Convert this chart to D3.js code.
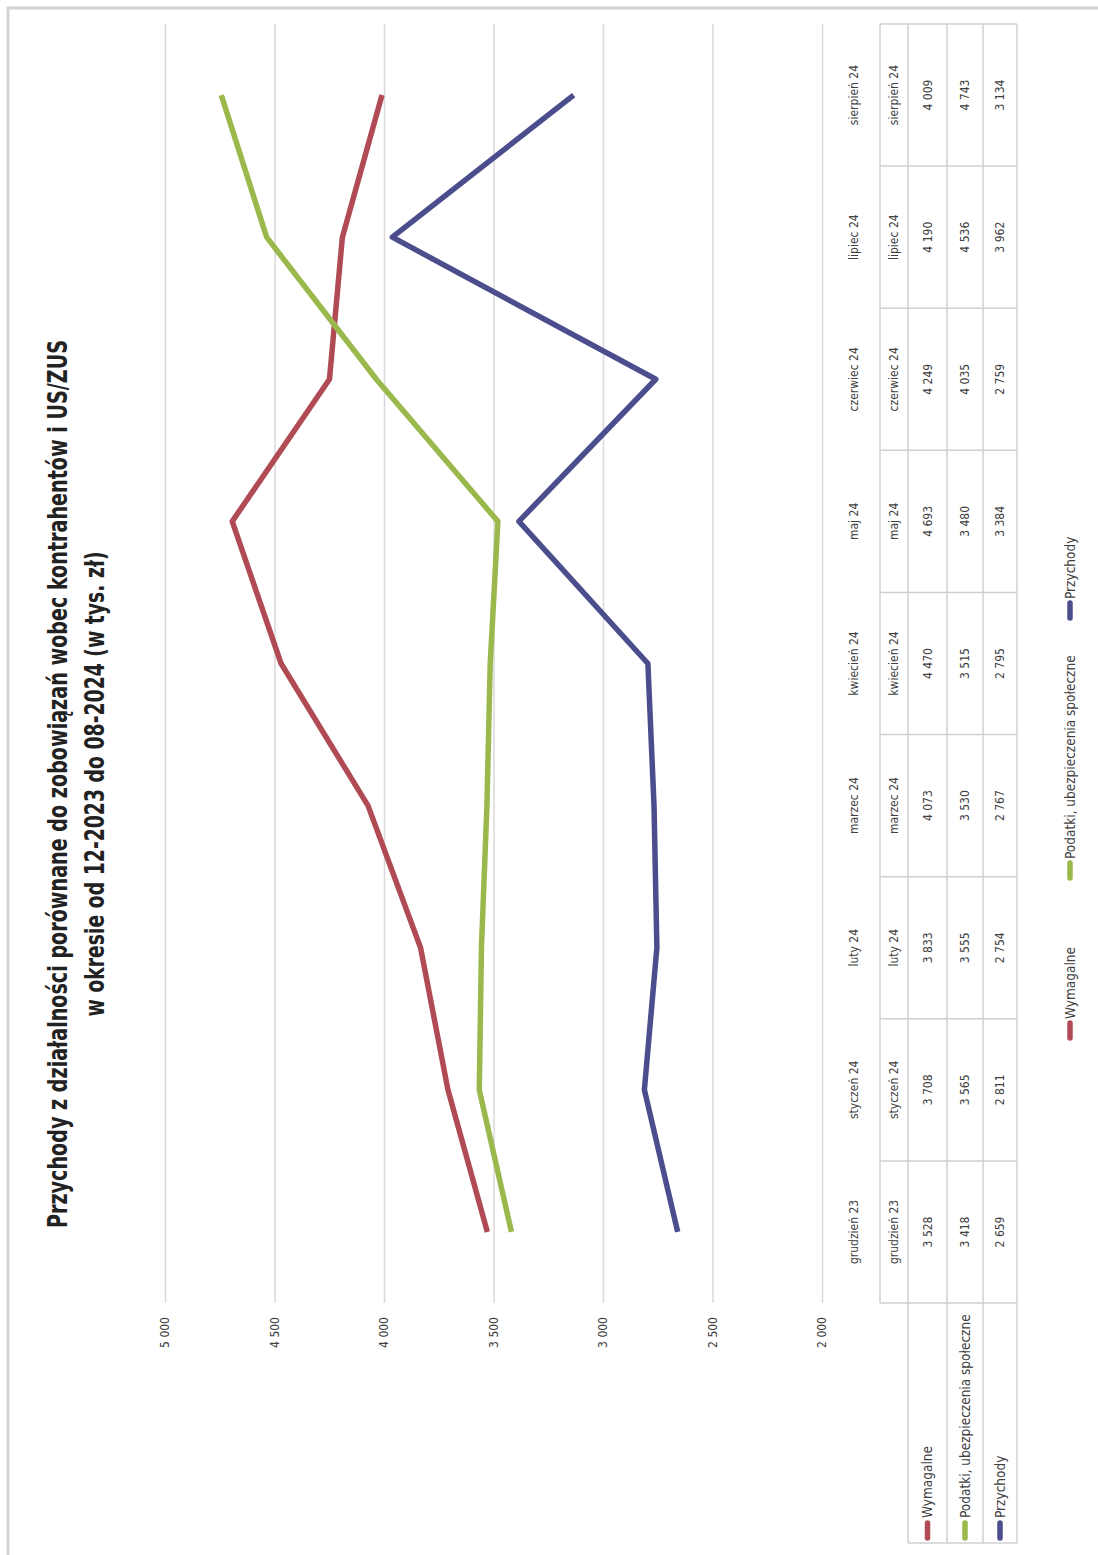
<html>
  <head>
    <meta charset="utf-8" />
    <script src="https://cdn.jsdelivr.net/npm/d3@7"></script>
    <style>
      body { margin: 0; background: #fff; }
      text { font-family: "Liberation Sans Narrow", "DejaVu Sans Condensed", sans-serif; fill: #404040; }
    </style>
  </head>

  <body>
    <div id="chart"></div>
  </body>

  <script>
    // chart data (w tys. zł)
    let categories = ["grudzień 23", "styczeń 24", "luty 24", "marzec 24", "kwiecień 24", "maj 24", "czerwiec 24", "lipiec 24", "sierpień 24"]
    let seriesNames = ["Wymagalne", "Podatki, ubezpieczenia społeczne", "Przychody"]
    let wymagalne = [3528, 3708, 3833, 4073, 4470, 4693, 4249, 4190, 4009]
    let podatki = [3418, 3565, 3555, 3530, 3515, 3480, 4035, 4536, 4743]
    let przychody = [2659, 2811, 2754, 2767, 2795, 3384, 2759, 3962, 3134]
    let valueTicks = [2000, 2500, 3000, 3500, 4000, 4500, 5000]
    let titleLines = ["Przychody z działalności porównane do zobowiązań wobec kontrahentów i US/ZUS",
                      "w okresie od 12-2023 do 08-2024 (w tys. zł)"]

    function createLineChart () {
      let W = 1098, H = 1555
      let colors = ["#b04b56", "#9bb84c", "#4b4d8d"]
      let series = [wymagalne, podatki, przychody]

      // polish number format: 3 528
      let fmt = d3.formatLocale({decimal: ",", thousands: " ", grouping: [3], currency: ["", ""]}).format(",d")

      let svg = d3.select("#chart").append("svg")
        .attr("width", W)
        .attr("height", H)

      // scanned page frame
      svg.append("path")
        .attr("d", "M8," + H + "V8H" + W)
        .attr("fill", "none")
        .attr("stroke", "#d4d4d4")
        .attr("stroke-width", 3)

      // the page is scanned sideways, so draw the chart turned by -90 deg
      let g = svg.append("g")
        .attr("transform", "translate(0," + H + ") rotate(-90)")

      let left = 252, right = 1531, top = 165, bottom = 822

      let x = d3.scaleBand()
        .domain(categories)
        .range([left, right])
      let bw = x.bandwidth()

      let y = d3.scaleLinear()
        .domain([2000, 5000])
        .range([bottom, top])

      // title (condensed bold, squeezed to the scanned width)
      let titleWidth = [888, 465]
      g.append("g").selectAll("text")
        .data(titleLines)
        .enter().append("text")
        .attr("x", 771)
        .attr("y", (d, i) => 67 + i * 37)
        .attr("text-anchor", "middle")
        .attr("font-size", 27)
        .attr("font-weight", "bold")
        .attr("textLength", (d, i) => titleWidth[i])
        .attr("lengthAdjust", "spacingAndGlyphs")
        .style("fill", "#222")
        .text((d) => d)

      // value axis + gridlines
      let yAxis = g.append("g")
        .attr("transform", "translate(" + left + ",0)")
        .call(d3.axisLeft(y)
          .tickValues(valueTicks)
          .tickSize(-(right - left))
          .tickPadding(14)
          .tickFormat(fmt))
      yAxis.select(".domain").remove()
      yAxis.selectAll("line").attr("stroke", "#d9d9d9").attr("stroke-width", 1.5)
      yAxis.selectAll("text").attr("font-size", 12).attr("font-family", null).style("fill", "#404040")

      // category axis
      let xAxis = g.append("g")
        .attr("transform", "translate(0," + bottom + ")")
        .call(d3.axisBottom(x).tickSize(0).tickPadding(27))
      xAxis.select(".domain").remove()
      xAxis.selectAll("text").attr("font-size", 12).attr("font-family", null).style("fill", "#404040")

      // lines
      let line = d3.line()
        .x((d, i) => x(categories[i]) + bw / 2)
        .y((d) => y(d))

      g.append("g").selectAll("path")
        .data(series)
        .enter().append("path")
        .attr("d", line)
        .attr("fill", "none")
        .attr("stroke", (d, i) => colors[i])
        .attr("stroke-width", 5.5)
        .attr("stroke-linejoin", "round")

      // data table below the plot
      let rowY = [880, 908, 947, 983, 1017]
      let table = g.append("g")
        .attr("stroke", "#d0d0d0")
        .attr("stroke-width", 1.5)

      // horizontal rules
      table.selectAll("line.h")
        .data(rowY)
        .enter().append("line")
        .attr("x1", (d, i) => i == 0 ? left : 12)
        .attr("x2", right)
        .attr("y1", (d) => d)
        .attr("y2", (d) => d)

      // column rules
      table.selectAll("line.v")
        .data(categories.concat(["end"]))
        .enter().append("line")
        .attr("x1", (d, i) => left + i * bw)
        .attr("x2", (d, i) => left + i * bw)
        .attr("y1", rowY[0])
        .attr("y2", rowY[4])
      table.append("line")
        .attr("x1", 12).attr("x2", 12)
        .attr("y1", rowY[1]).attr("y2", rowY[4])

      // header row
      g.append("g").selectAll("text")
        .data(categories)
        .enter().append("text")
        .attr("x", (d) => x(d) + bw / 2)
        .attr("y", (rowY[0] + rowY[1]) / 2)
        .attr("dy", "0.35em")
        .attr("text-anchor", "middle")
        .attr("font-size", 12)
        .text((d) => d)

      // value rows
      let rows = g.append("g").selectAll("g")
        .data(series)
        .enter().append("g")
        .attr("transform", (d, i) => "translate(0," + (rowY[i + 1] + rowY[i + 2]) / 2 + ")")

      rows.selectAll("text")
        .data((d) => d)
        .enter().append("text")
        .attr("x", (d, i) => x(categories[i]) + bw / 2)
        .attr("dy", "0.35em")
        .attr("text-anchor", "middle")
        .attr("font-size", 12)
        .text((d) => fmt(d))

      rows.append("line")
        .attr("x1", 17).attr("x2", 32)
        .attr("stroke", (d, i) => colors[i])
        .attr("stroke-width", 5.5)
        .attr("stroke-linecap", "round")

      rows.append("text")
        .attr("x", 37)
        .attr("dy", "0.35em")
        .attr("font-size", 13.5)
        .text((d, i) => seriesNames[i])

      // legend
      let legendX = [515, 675, 935]
      let legend = g.append("g").selectAll("g")
        .data(seriesNames)
        .enter().append("g")
        .attr("transform", (d, i) => "translate(" + legendX[i] + ",1070)")

      legend.append("line")
        .attr("x1", 2).attr("x2", 17)
        .attr("stroke", (d, i) => colors[i])
        .attr("stroke-width", 5.5)
        .attr("stroke-linecap", "round")

      legend.append("text")
        .attr("x", 21)
        .attr("dy", "0.35em")
        .attr("font-size", 13.5)
        .text((d) => d)
    }

    createLineChart()
  </script>
</html>
